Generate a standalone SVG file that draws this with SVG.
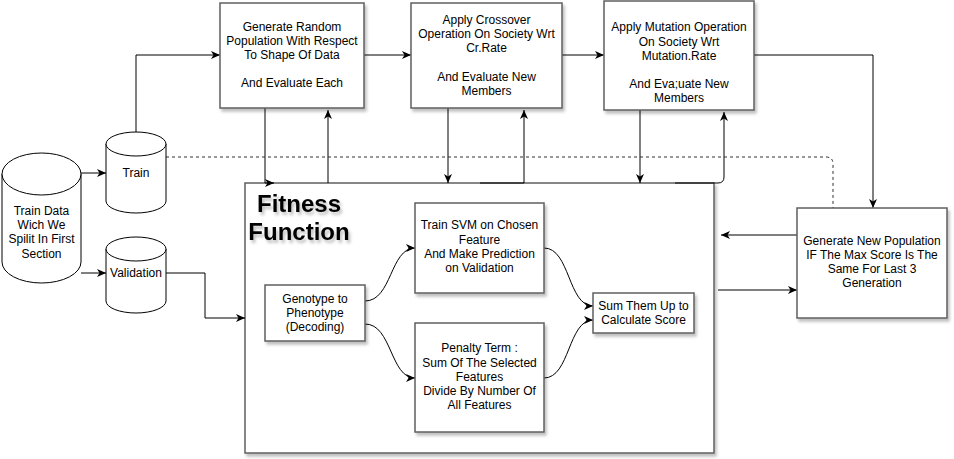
<svg xmlns="http://www.w3.org/2000/svg" width="954" height="459" viewBox="0 0 954 459">
<style>
.box{fill:#fff;stroke:#5f5f5f;stroke-width:1.5;filter:url(#sh)}
.cyl{fill:#fff;stroke:#000;stroke-width:1}
.t{font-family:"Liberation Sans",Arial,sans-serif;font-size:12px;fill:#000;text-anchor:middle}
.big{font-family:"Liberation Sans",Arial,sans-serif;font-size:24px;font-weight:bold;fill:#000;text-anchor:middle;filter:url(#tsh)}
.c{fill:none;stroke:#000;stroke-width:1;marker-end:url(#ar)}
.d{fill:none;stroke:#333;stroke-width:1;stroke-dasharray:3 3}
</style>
<defs>
<filter id="sh" x="-10%" y="-10%" width="130%" height="130%"><feDropShadow dx="2" dy="3" stdDeviation="1.5" flood-color="#000" flood-opacity="0.25"/></filter>
<filter id="tsh" x="-10%" y="-20%" width="130%" height="150%"><feDropShadow dx="2" dy="3" stdDeviation="1.5" flood-color="#000" flood-opacity="0.25"/></filter>
<marker id="ar" markerUnits="userSpaceOnUse" markerWidth="10" markerHeight="8" refX="9" refY="4" orient="auto"><path d="M0,0 L9,4 L0,8 L2.5,4 Z" fill="#000"/></marker>
</defs>
<rect width="954" height="459" fill="#fff"/>

<g id="fitness">
<rect class="box" x="245" y="183" width="469" height="270"/>
<text class="big" x="299" y="212">Fitness</text>
<text class="big" x="299" y="240">Function</text>
</g>

<g id="connectors">
<path class="c" d="M81,173 H106"/>
<path class="c" d="M81,273 H106"/>
<path class="c" d="M166,273 H205 V318 H245"/>
<path class="c" d="M136,132 V55 H220"/>
<path class="c" d="M364,55 H411"/>
<path class="c" d="M562,55 H604"/>
<path class="c" d="M754,55 H873 V208"/>
<path class="c" d="M797,235 H721"/>
<path class="c" d="M718,290 H797"/>
<path class="c" d="M265,108 V183 H274"/>
<path class="c" d="M328,183 V110"/>
<path class="c" d="M448,108 V183"/>
<path class="c" d="M480,183 H524 V110"/>
<path class="c" d="M640,110 V183"/>
<path class="c" d="M675,183 H718 Q724,183 724,177 V112"/>
<path class="d" d="M166,157 H826 Q833,157 833,164 V208"/>
<path class="c" d="M365,301 C392,301 390,248 415,248"/>
<path class="c" d="M365,324 C392,324 390,378 415,378"/>
<path class="c" d="M544,248 C570,248 568,306 593,306"/>
<path class="c" d="M544,378 C570,378 568,320 593,320"/>
</g>

<g id="train-data">
<path class="cyl" d="M2,174 A39.5,21 0 0 1 81,174 V262 A39.5,21 0 0 1 2,262 Z"/>
<path class="cyl" d="M2,174 A39.5,21 0 0 0 81,174"/>
<text class="t" x="41.5" y="215">Train Data</text>
<text class="t" x="41.5" y="229">Wich We</text>
<text class="t" x="41.5" y="243">Spilit In First</text>
<text class="t" x="41.5" y="258">Section</text>
</g>

<g id="train">
<path class="cyl" d="M106,144 A30,12 0 0 1 166,144 V201 A30,12 0 0 1 106,201 Z"/>
<path class="cyl" d="M106,144 A30,12 0 0 0 166,144"/>
<text class="t" x="136" y="177">Train</text>
</g>

<g id="validation">
<path class="cyl" d="M106,249 A30,12 0 0 1 166,249 V301 A30,12 0 0 1 106,301 Z"/>
<path class="cyl" d="M106,249 A30,12 0 0 0 166,249"/>
<text class="t" x="136" y="277">Validation</text>
</g>

<g id="generate-random">
<rect class="box" x="220" y="3" width="144" height="105"/>
<text class="t" x="292" y="31">Generate Random</text>
<text class="t" x="292" y="45">Population With Respect</text>
<text class="t" x="292" y="59">To Shape Of Data</text>
<text class="t" x="292" y="87">And Evaluate Each</text>
</g>

<g id="crossover">
<rect class="box" x="411" y="3" width="151" height="105"/>
<text class="t" x="486.5" y="24">Apply Crossover</text>
<text class="t" x="486.5" y="38">Operation On Society Wrt</text>
<text class="t" x="486.5" y="52">Cr.Rate</text>
<text class="t" x="486.5" y="81">And Evaluate New</text>
<text class="t" x="486.5" y="95">Members</text>
</g>

<g id="mutation">
<rect class="box" x="604" y="1" width="150" height="109"/>
<text class="t" x="679" y="31">Apply Mutation Operation</text>
<text class="t" x="679" y="45.5">On Society Wrt</text>
<text class="t" x="679" y="59.5">Mutation.Rate</text>
<text class="t" x="679" y="88">And Eva;uate New</text>
<text class="t" x="679" y="102">Members</text>
</g>

<g id="generate-new">
<rect class="box" x="797" y="208" width="150" height="110"/>
<text class="t" x="872" y="245">Generate New Population</text>
<text class="t" x="872" y="259">IF The Max Score Is The</text>
<text class="t" x="872" y="273">Same For Last 3</text>
<text class="t" x="872" y="287">Generation</text>
</g>

<g id="genotype">
<rect class="box" x="265" y="285" width="100" height="56"/>
<text class="t" x="315" y="303">Genotype to</text>
<text class="t" x="315" y="317">Phenotype</text>
<text class="t" x="315" y="331">(Decoding)</text>
</g>

<g id="train-svm">
<rect class="box" x="415" y="203" width="129" height="90"/>
<text class="t" x="479.5" y="229">Train SVM on Chosen</text>
<text class="t" x="479.5" y="243.5">Feature</text>
<text class="t" x="479.5" y="258">And Make Prediction</text>
<text class="t" x="479.5" y="272">on Validation</text>
</g>

<g id="penalty">
<rect class="box" x="415" y="323" width="129" height="109"/>
<text class="t" x="479.5" y="352">Penalty Term :</text>
<text class="t" x="479.5" y="366.5">Sum Of The Selected</text>
<text class="t" x="479.5" y="381">Features</text>
<text class="t" x="479.5" y="395">Divide By Number Of</text>
<text class="t" x="479.5" y="409">All Features</text>
</g>

<g id="sum">
<rect class="box" x="593" y="293" width="101" height="40"/>
<text class="t" x="643.5" y="310">Sum Them Up to</text>
<text class="t" x="643.5" y="324">Calculate Score</text>
</g>
</svg>
